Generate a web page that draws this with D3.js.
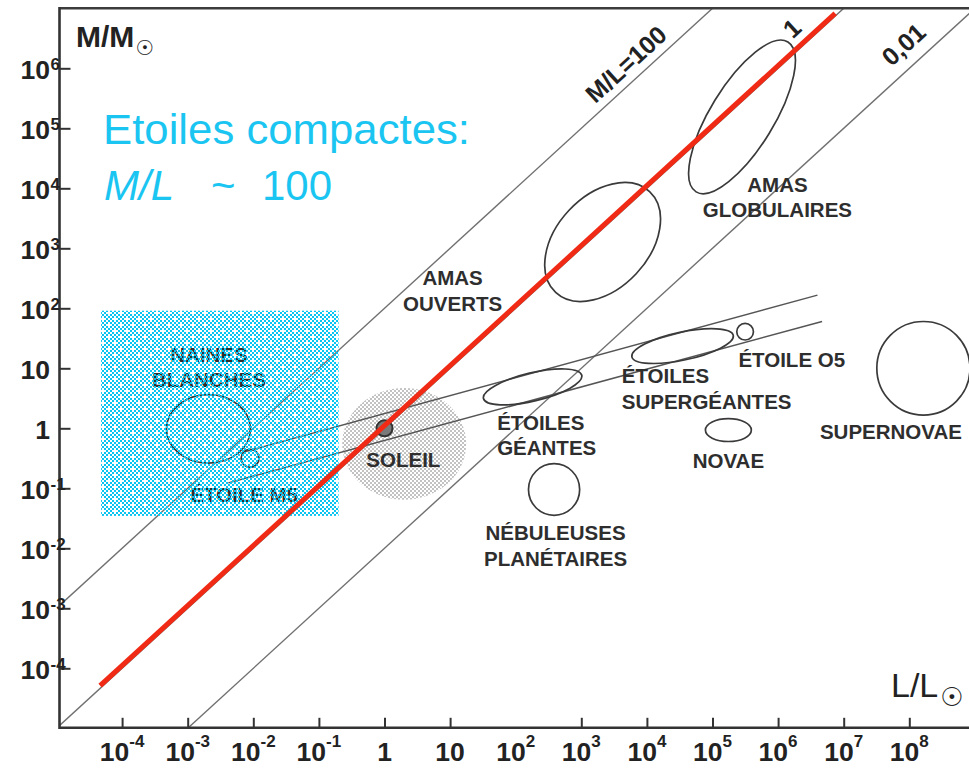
<!DOCTYPE html>
<html>
<head>
<meta charset="utf-8">
<script src="https://cdn.jsdelivr.net/npm/d3@7"></script>
<style>
  body { margin: 0; background: #fff; }
  svg { display: block; }
  text { font-family: "Liberation Sans", Arial, Helvetica, sans-serif; }
</style>
</head>
<body>
<svg id="chart" width="969" height="768"></svg>
<script>
// ---- axes (exponents of ten) ----
const xTickLabelExp = [-4, -3, -2, -1, 0, 1, 2, 3, 4, 5, 6, 7, 8];
const xTickMarkExp  = [-4, -3, -2, -1, 0, 1, 3, 4, 5, 6, 7, 8];
const yTickExp      = [-4, -3, -2, -1, 0, 1, 2, 3, 4, 5, 6];

// ---- lines of constant mass-to-light ratio ----
const mlRatios   = [100, 1, 0.01];
const mlLabels   = ["M/L=100", "1", "0,01"];
const mlLabelLogL = [3.68, 6.21, 7.91];
const mlLabelLogM = [6.07, 6.67, 6.40];

// ---- object families (log10 L, log10 M, half-sizes in decades, tilt in degrees) ----
const objNames = ["amas globulaires", "amas ouverts", "supernovae", "étoile O5", "novae",
                  "supergéantes", "géantes", "nébuleuses planétaires", "naines blanches", "étoile M5"];
const objLogL  = [5.45, 3.325, 8.215, 5.497, 5.242, 4.544, 2.258, 2.585, -2.684, -2.049];
const objLogM  = [5.19, 3.105, 1.00, 1.61, -0.03, 1.37, 0.69, -1.02, -0.01, -0.50];
const objHalfL = [1.34, 1.05, 0.71, 0.127, 0.35, 0.79, 0.77, 0.39, 0.64, 0.137];
const objHalfM = [0.53, 0.77, 0.78, 0.138, 0.19, 0.233, 0.235, 0.43, 0.57, 0.15];
const objTilt  = [-58.5, -47, 0, 0, 0, -12, -13.3, 0, 0, 0];

// ---- the Sun and its neighbourhood ----
const sunLogL = [0.0];
const sunLogM = [0.0];
const sunHalf = [0.122, 0.133];
const sunZoneLogL = [0.30];
const sunZoneLogM = [-0.26];
const sunZoneHalf = [0.945, 0.93];

// ---- stellar band (two bounding lines) ----
const bandUpperLogL = [-2.13, 6.60];
const bandUpperLogM = [-0.39, 2.22];
const bandLowerLogL = [-2.38, 6.67];
const bandLowerLogM = [-0.91, 1.78];

// ---- compact-star zone and the highlighted ratio line ----
const compactZoneLogL = [-4.32, -0.70];
const compactZoneLogM = [-1.46, 1.96];
const compactLineLogL = [-4.335, 6.87];
const compactLineLogM = [-4.29, 6.915];

// ---- labels (text, log10 L, log10 M of first baseline, anchor) ----
const labelLines  = [["AMAS", "OUVERTS"], ["AMAS", "GLOBULAIRES"], ["NAINES", "BLANCHES"], ["ÉTOILE M5"],
                     ["SOLEIL"], ["ÉTOILES", "GÉANTES"], ["NÉBULEUSES", "PLANÉTAIRES"],
                     ["ÉTOILES", "SUPERGÉANTES"], ["ÉTOILE O5"], ["NOVAE"], ["SUPERNOVAE"]];
const labelLogL   = [1.038, 5.99, -2.677, -2.963, 0.288, 1.717, 2.608, 3.617, 5.395, 5.242, 7.72];
const labelLogM   = [2.388, 3.943, 1.11, -1.228, -0.65, -0.028, -1.862, 0.75, 1.027, -0.667, -0.183];
const labelAnchor = ["middle", "middle", "middle", "start", "middle", "start", "middle", "start", "start", "middle", "middle"];

const p10 = k => Math.pow(10, k);

const svg = d3.select("#chart");
const x = d3.scaleLog().domain([1e-5, 1e9]).range([56.5, 974.9]);
const y = d3.scaleLog().domain([1e-5, 1e7]).range([728.3, 8.3]);

const plotLeft = 59.5, plotTop = 8.3, plotBottom = 727.8, plotRight = 975;
const ink = "#333";

const defs = svg.append("defs");
defs.append("clipPath").attr("id", "plotClip")
  .append("rect").attr("x", plotLeft).attr("y", plotTop)
  .attr("width", plotRight - plotLeft).attr("height", plotBottom - plotTop);

// cyan dither for the compact-star zone
const cyanPat = defs.append("pattern").attr("id", "cyanDither")
  .attr("patternUnits", "userSpaceOnUse").attr("width", 12).attr("height", 12);
for (let i = 0; i < 6; i++) {
  for (let j = 0; j < 6; j++) {
    if ((i + j) % 2 !== 0) continue;
    if ((i === 0 && j === 0) || (i === 3 && j === 3)) continue;
    cyanPat.append("rect").attr("x", i * 2).attr("y", j * 2).attr("width", 2).attr("height", 2).attr("fill", "#08c4f0");
  }
}
// grey dither for the solar neighbourhood
const greyPat = defs.append("pattern").attr("id", "greyDither")
  .attr("patternUnits", "userSpaceOnUse").attr("width", 4).attr("height", 4);
greyPat.append("rect").attr("x", 0).attr("y", 0).attr("width", 2).attr("height", 2).attr("fill", "#c2c2c2");
greyPat.append("rect").attr("x", 2).attr("y", 2).attr("width", 2).attr("height", 2).attr("fill", "#c2c2c2");

const plot = svg.append("g").attr("clip-path", "url(#plotClip)");

function ellipseGeom(lL, lM, hL, hM) {
  const cx = x(p10(lL)), cy = y(p10(lM));
  return { cx, cy, rx: x(p10(lL + hL)) - cx, ry: cy - y(p10(lM + hM)) };
}

// solar neighbourhood
sunZoneLogL.forEach((lL, i) => {
  const g = ellipseGeom(lL, sunZoneLogM[i], sunZoneHalf[0], sunZoneHalf[1]);
  plot.append("ellipse").attr("cx", g.cx).attr("cy", g.cy).attr("rx", g.rx).attr("ry", g.ry)
    .attr("fill", "url(#greyDither)").attr("stroke", "none");
});

// constant M/L lines
const line = d3.line().x(d => x(d[0])).y(d => y(d[1]));
mlRatios.forEach(r => {
  plot.append("path").datum([[1e-7, 1e-7 * r], [1e11, 1e11 * r]])
    .attr("d", line).attr("fill", "none").attr("stroke", "#707070").attr("stroke-width", 1.4);
});

// stellar band
[[bandUpperLogL, bandUpperLogM], [bandLowerLogL, bandLowerLogM]].forEach(([ls, ms]) => {
  plot.append("path").datum(ls.map((l, i) => [p10(l), p10(ms[i])]))
    .attr("d", line).attr("fill", "none").attr("stroke", "#555").attr("stroke-width", 1.5);
});

// object families
objNames.forEach((n, i) => {
  const g = ellipseGeom(objLogL[i], objLogM[i], objHalfL[i], objHalfM[i]);
  plot.append("ellipse").attr("class", "family")
    .attr("cx", g.cx).attr("cy", g.cy).attr("rx", g.rx).attr("ry", g.ry)
    .attr("transform", `rotate(${objTilt[i]},${g.cx},${g.cy})`)
    .attr("fill", "none").attr("stroke", "#3a3a3a").attr("stroke-width", 1.7);
});

// the Sun
sunLogL.forEach((lL, i) => {
  const g = ellipseGeom(lL, sunLogM[i], sunHalf[0], sunHalf[1]);
  plot.append("ellipse").attr("cx", g.cx).attr("cy", g.cy).attr("rx", g.rx).attr("ry", g.ry)
    .attr("fill", "#7a7a7a").attr("stroke", "#333").attr("stroke-width", 2);
});

// family labels
const lineGap = 25.5;
labelLines.forEach((lines, i) => {
  const t = svg.append("text")
    .attr("x", x(p10(labelLogL[i]))).attr("y", y(p10(labelLogM[i])))
    .attr("text-anchor", labelAnchor[i])
    .attr("font-size", 20.5).attr("font-weight", "bold").attr("fill", "#2e2e2e");
  lines.forEach((s, k) => {
    t.append("tspan").attr("x", x(p10(labelLogL[i]))).attr("dy", k === 0 ? 0 : lineGap).text(s);
  });
});

// ratio line labels
const slopeDeg = Math.atan2(y(10) - y(1), x(10) - x(1)) * 180 / Math.PI;
mlLabels.forEach((s, i) => {
  const px = x(p10(mlLabelLogL[i])), py = y(p10(mlLabelLogM[i]));
  svg.append("text").attr("x", px).attr("y", py)
    .attr("transform", `rotate(${slopeDeg},${px},${py})`)
    .attr("text-anchor", "middle").attr("dominant-baseline", "central")
    .attr("font-size", 25).attr("font-weight", "bold").attr("fill", "#222").text(s);
});

// compact-star zone
const zx0 = x(p10(compactZoneLogL[0])), zx1 = x(p10(compactZoneLogL[1]));
const zy0 = y(p10(compactZoneLogM[1])), zy1 = y(p10(compactZoneLogM[0]));
svg.append("rect").attr("x", zx0).attr("y", zy0).attr("width", zx1 - zx0).attr("height", zy1 - zy0)
  .attr("fill", "url(#cyanDither)");

// highlighted ratio line
svg.append("path").datum(compactLineLogL.map((l, i) => [p10(l), p10(compactLineLogM[i])]))
  .attr("d", line).attr("fill", "none").attr("stroke", "#f02a14").attr("stroke-width", 5);

// ticks
const yAxis = svg.append("g").attr("transform", `translate(${plotLeft},0)`)
  .call(d3.axisRight(y).tickValues(yTickExp.map(p10)).tickSize(11).tickFormat(() => ""));
const xAxis = svg.append("g").attr("transform", `translate(0,${plotBottom})`)
  .call(d3.axisTop(x).tickValues(xTickMarkExp.map(p10)).tickSize(10).tickFormat(() => ""));
[yAxis, xAxis].forEach(a => {
  a.select(".domain").remove();
  a.selectAll(".tick line").attr("stroke", ink).attr("stroke-width", 2);
});

// frame
svg.append("path").attr("d", `M${plotLeft},${plotTop}H969`).attr("stroke", "#3c3c3c").attr("stroke-width", 2.6);
svg.append("path").attr("d", `M${plotLeft},${plotTop - 1.3}V${plotBottom}H969`).attr("fill", "none")
  .attr("stroke", "#333").attr("stroke-width", 2.6);

// tick labels
const tickFont = 26.5, supFont = 17;
yTickExp.forEach(k => {
  const ty = y(p10(k));
  const main = k === 0 ? "1" : "10";
  svg.append("text").attr("x", 50).attr("y", ty + 11).attr("text-anchor", "end")
    .attr("font-size", tickFont).attr("font-weight", "bold").attr("fill", "#222").text(main);
  if (k !== 0 && k !== 1) {
    svg.append("text").attr("x", 50.5).attr("y", ty + 1.5).attr("text-anchor", "start")
      .attr("font-size", supFont).attr("font-weight", "bold").attr("fill", "#222").text(String(k));
  }
});
xTickLabelExp.forEach(k => {
  const tx = x(p10(k));
  const t = svg.append("text").attr("x", tx).attr("y", 760.5).attr("text-anchor", "middle")
    .attr("font-size", tickFont).attr("font-weight", "bold").attr("fill", "#222");
  t.append("tspan").text(k === 0 ? "1" : "10");
  if (k !== 0 && k !== 1) t.append("tspan").attr("dy", -14).attr("font-size", supFont).text(String(k));
});

// axis titles
const yTitle = svg.append("text").attr("x", 76).attr("y", 46.5)
  .attr("font-size", 30).attr("font-weight", "bold").attr("fill", "#222");
yTitle.append("tspan").text("M/M");
yTitle.append("tspan").attr("font-family", "DejaVu Sans").attr("font-weight", "normal")
  .attr("font-size", 21).attr("dx", 1).attr("dy", 8).text("☉");

const xTitle = svg.append("text").attr("x", 891).attr("y", 696.5)
  .attr("font-size", 34).attr("fill", "#222");
xTitle.append("tspan").text("L/L");
xTitle.append("tspan").attr("font-family", "DejaVu Sans")
  .attr("font-size", 26).attr("dx", 2).attr("dy", 9).text("☉");

// annotation
const note = svg.append("g").attr("fill", "#1bc5f1")
  .style("font-family", "'Comic Sans MS', 'Comic Neue', Lato, sans-serif").attr("font-size", 42);
note.append("text").attr("x", 103).attr("y", 143.5)
  .attr("textLength", 367).attr("lengthAdjust", "spacingAndGlyphs").text("Etoiles compactes:");
const l2 = note.append("text").attr("y", 200);
l2.append("tspan").attr("x", 104).attr("font-style", "italic").text("M/L");
l2.append("tspan").attr("x", 211).text("~");
l2.append("tspan").attr("x", 262).text("100");
</script>
</body>
</html>
